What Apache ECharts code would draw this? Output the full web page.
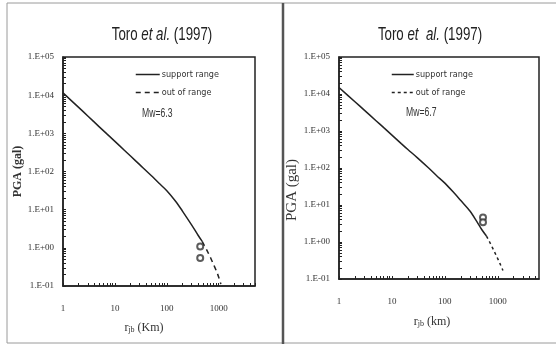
<!DOCTYPE html>
<html>
<head>
<meta charset="utf-8">
<script src="https://cdn.jsdelivr.net/npm/echarts@6/dist/echarts.min.js"></script>
<style>
  html, body { margin: 0; padding: 0; background: #fff; overflow: hidden; }
  #chart { width: 556px; height: 347px; }
</style>
</head>
<body>
<div id="chart"></div>
<script>
// Toro et al. (1997) attenuation, Mw = 6.3: distance r_jb (km) and PGA (gal)
const rSupport63 = [1, 2, 3, 5, 7, 10, 15, 20, 30, 50, 70, 100, 150, 200, 300, 400, 480];
const pgaSupport63 = [11500, 4790, 2850, 1480, 966, 617, 367, 254, 151, 78.5, 50, 31.5, 16.2, 9.2, 4.0, 2.14, 1.48];
const rOut63 = [480, 600, 700, 800, 900, 1000, 1100];
const pgaOut63 = [1.48, 0.83, 0.54, 0.36, 0.25, 0.17, 0.112];
const rObs63 = [440, 440];
const pgaObs63 = [1.08, 0.54];

// Mw = 6.7
const rSupport67 = [1, 2, 3, 5, 7, 10, 15, 20, 30, 50, 70, 100, 150, 200, 300, 400, 500, 610];
const pgaSupport67 = [15000, 6170, 3670, 1900, 1230, 776, 457, 316, 191, 98, 62, 39, 21, 13.2, 6.8, 3.6, 2.14, 1.45];
const rOut67 = [610, 700, 800, 900, 1000, 1100, 1250];
const pgaOut67 = [1.45, 1.0, 0.68, 0.48, 0.35, 0.26, 0.17];
const rObs67 = [525, 525];
const pgaObs67 = [4.6, 3.4];

// Axis labels and tick positions
const xLabelValues = [1, 10, 100, 1000];
const yLabelValues = [0.1, 1, 10, 100, 1000, 10000, 100000];
const xTickValues = [
  1, 2, 3, 4, 5, 6, 7, 8, 9,
  10, 20, 30, 40, 50, 60, 70, 80, 90,
  100, 200, 300, 400, 500, 600, 700, 800, 900,
  1000, 2000, 3000, 4000, 5000
];
const yTickValues = [
  0.1, 0.2, 0.3, 0.4, 0.5, 0.6, 0.7, 0.8, 0.9,
  1, 2, 3, 4, 5, 6, 7, 8, 9,
  10, 20, 30, 40, 50, 60, 70, 80, 90,
  100, 200, 300, 400, 500, 600, 700, 800, 900,
  1000, 2000, 3000, 4000, 5000, 6000, 7000, 8000, 9000,
  10000, 20000, 30000, 40000, 50000, 60000, 70000, 80000, 90000,
  100000
];

const INK = '#222';
const TEXT = '#333';
const SERIF = "'Liberation Serif', 'DejaVu Serif', serif";
const SANS = "'Liberation Sans', sans-serif";
const NARROW = "'Liberation Sans Narrow', 'DejaVu Sans Condensed', 'Liberation Sans', sans-serif";

function sciLabel(v) {
  const e = Math.round(Math.log10(v));
  return '1.E' + (e < 0 ? '-' : '+') + String(Math.abs(e)).padStart(2, '0');
}

function plainLabel(v) {
  return String(Math.round(v));
}

function pairs(xs, ys) {
  return xs.map((x, i) => [x, ys[i]]);
}

function xAxisFor(gridIndex, max, nameText, nameGap, namePad) {
  return {
    type: 'log', logBase: 10, gridIndex, min: 1, max,
    name: nameText, nameLocation: 'middle', nameGap,
    nameTextStyle: {
      fontFamily: SERIF, fontSize: 12, color: TEXT, padding: [0, namePad, 0, 0],
      rich: {
        sub: { fontFamily: SERIF, fontSize: 8, color: TEXT, verticalAlign: 'bottom', lineHeight: 8, padding: [8, 0, 0, 0] }
      }
    },
    axisLine: { show: true, onZero: false, lineStyle: { color: INK, width: 1.5 } },
    axisTick: { show: true, inside: true, length: 3, customValues: xTickValues, lineStyle: { color: INK, width: 1 } },
    axisLabel: { customValues: xLabelValues, formatter: plainLabel, margin: 18, fontFamily: SERIF, fontSize: 9, color: TEXT },
    splitLine: { show: false },
    minorTick: { show: false }
  };
}

function yAxisFor(gridIndex, nameGap, nameStyle) {
  return {
    type: 'log', logBase: 10, gridIndex, min: 0.1, max: 100000,
    name: 'PGA (gal)', nameLocation: 'middle', nameGap,
    nameTextStyle: Object.assign({ fontFamily: SERIF, color: TEXT }, nameStyle),
    axisLine: { show: true, onZero: false, lineStyle: { color: INK, width: 1.5 } },
    axisTick: { show: true, inside: true, length: 3, customValues: yTickValues, lineStyle: { color: INK, width: 1 } },
    axisLabel: { customValues: yLabelValues, formatter: sciLabel, margin: 9, fontFamily: SERIF, fontSize: 9, color: TEXT },
    splitLine: { show: false }
  };
}

function curve(name, idx, data, dash) {
  return {
    name, type: 'line', xAxisIndex: idx, yAxisIndex: idx,
    data, symbol: 'none', showSymbol: false, smooth: 0.3, silent: true,
    itemStyle: { color: INK },
    lineStyle: { color: INK, width: 1.5, type: dash || 'solid' }
  };
}

function observed(idx, data) {
  return {
    name: 'observed', type: 'scatter', xAxisIndex: idx, yAxisIndex: idx,
    data, symbol: 'emptyCircle', symbolSize: 6, silent: true,
    itemStyle: { color: '#333', borderColor: '#333', borderWidth: 1 }
  };
}

function titleText(x, text) {
  return {
    type: 'text', x, y: 35, scaleX: 0.7, silent: true,
    style: {
      text, align: 'center', verticalAlign: 'middle',
      fontFamily: SANS, fontSize: 19, fill: '#222',
      rich: { it: { fontFamily: SANS, fontSize: 19, fontStyle: 'italic', fill: '#222' } }
    }
  };
}

function noteText(x, y, text) {
  return {
    type: 'text', x, y, scaleX: 0.72, silent: true,
    style: { text, verticalAlign: 'middle', fontFamily: SANS, fontSize: 12, fill: TEXT }
  };
}

function legendFor(left, dash, itemWidth) {
  return {
    left, top: 65, orient: 'vertical', itemWidth, itemHeight: 10, itemGap: 9,
    textStyle: { fontFamily: NARROW, fontSize: 9, color: TEXT, padding: [0, 0, 0, -3] },
    itemStyle: { opacity: 0 },
    selectedMode: false,
    data: [
      { name: 'support range', lineStyle: { type: 'solid', color: INK, width: 1.5 } },
      { name: 'out of range', lineStyle: { type: dash, color: INK, width: 1.5 } }
    ]
  };
}

const chart = echarts.init(document.getElementById('chart'), null, { renderer: 'canvas' });

chart.setOption({
  animation: false,
  backgroundColor: '#fff',
  grid: [
    { left: 63, top: 57, width: 192, height: 229, show: true, borderColor: INK, borderWidth: 1.5, backgroundColor: 'transparent' },
    { left: 339, top: 57, width: 200, height: 222, show: true, borderColor: INK, borderWidth: 1.5, backgroundColor: 'transparent' }
  ],
  xAxis: [
    xAxisFor(0, 5000, 'r{sub|jb} (Km)', 36, 30),
    xAxisFor(1, 6000, 'r{sub|jb} (km)', 37, 14)
  ],
  yAxis: [
    yAxisFor(0, 31, { fontSize: 12, fontWeight: 'bold' }),
    yAxisFor(1, 28, { fontSize: 15, padding: [0, 44, 0, 0] })
  ],
  legend: [
    legendFor(130, [5, 4], 24),
    legendFor(386, [3, 3], 22)
  ],
  series: [
    curve('support range', 0, pairs(rSupport63, pgaSupport63)),
    curve('out of range', 0, pairs(rOut63, pgaOut63), [5, 4]),
    observed(0, pairs(rObs63, pgaObs63)),
    curve('support range', 1, pairs(rSupport67, pgaSupport67)),
    curve('out of range', 1, pairs(rOut67, pgaOut67), [3, 3]),
    observed(1, pairs(rObs67, pgaObs67))
  ],
  graphic: [
    // panel frames
    { type: 'rect', silent: true, shape: { x: 7, y: 3, width: 276, height: 340 }, style: { fill: 'none', stroke: '#9a9a9a', lineWidth: 1 } },
    { type: 'line', silent: true, shape: { x1: 283, y1: 3, x2: 556, y2: 3 }, style: { stroke: '#9a9a9a', lineWidth: 1 } },
    { type: 'line', silent: true, shape: { x1: 283, y1: 343, x2: 556, y2: 343 }, style: { stroke: '#9a9a9a', lineWidth: 1 } },
    { type: 'line', silent: true, shape: { x1: 283, y1: 3, x2: 283, y2: 344 }, style: { stroke: '#555', lineWidth: 2.5 } },
    // titles
    titleText(162, 'Toro {it|et al.} (1997)'),
    titleText(430, 'Toro {it|et  al.} (1997)'),
    // magnitude notes
    noteText(142, 114, 'Mw=6.3'),
    noteText(406, 113, 'Mw=6.7')
  ]
});
</script>
</body>
</html>
